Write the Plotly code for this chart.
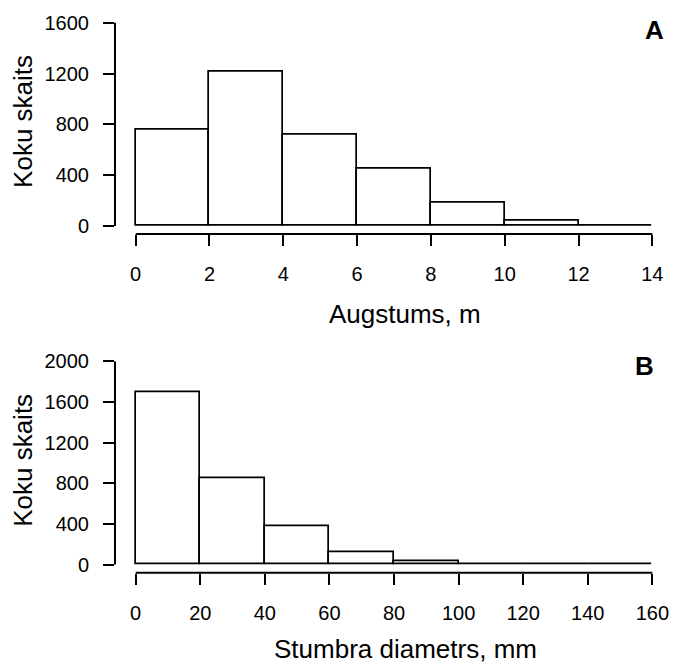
import plotly.graph_objects as go

# Panel A: height histogram
a_edges = [0, 2, 4, 6, 8, 10, 12, 14]
a_counts = [760, 1218, 716, 450, 182, 42, 3]
a_yticks = [0, 400, 800, 1200, 1600]
a_xticks = [0, 2, 4, 6, 8, 10, 12, 14]

# Panel B: stump diameter histogram
b_edges = [0, 20, 40, 60, 80, 100, 120, 140, 160]
b_counts = [1701, 852, 380, 117, 33, 4, 2, 1]
b_yticks = [0, 400, 800, 1200, 1600, 2000]
b_xticks = [0, 20, 40, 60, 80, 100, 120, 140, 160]

W, H = 673, 666
FONT = "Liberation Sans, Arial, Helvetica, sans-serif"

fig = go.Figure()

def centers(edges):
    return [(edges[i] + edges[i + 1]) / 2 for i in range(len(edges) - 1)]

def widths(edges):
    return [edges[i + 1] - edges[i] for i in range(len(edges) - 1)]

fig.add_trace(go.Bar(x=centers(a_edges), y=a_counts, width=widths(a_edges),
                     marker=dict(color="white", line=dict(color="black", width=1.7)),
                     xaxis="x", yaxis="y", showlegend=False, hoverinfo="skip"))
fig.add_trace(go.Bar(x=centers(b_edges), y=b_counts, width=widths(b_edges),
                     marker=dict(color="white", line=dict(color="black", width=1.7)),
                     xaxis="x2", yaxis="y2", showlegend=False, hoverinfo="skip"))

xdom = [115 / W, 1.0]
ydomA = [1 - 233.2 / H, 1 - 11.8 / H]
ydomB = [1 - 574.9 / H, 1 - 353.5 / H]

def pad(lo, hi, f=0.04):
    d = (hi - lo) * f
    return [lo - d, hi + d]

tickfont = dict(family=FONT, size=20, color="black")
common_x = dict(showgrid=False, zeroline=False, showline=False, ticks="outside",
                ticklen=11, tickwidth=2, tickcolor="black", tickfont=tickfont,
                ticklabelstandoff=11, domain=xdom, fixedrange=True)
common_y = dict(showgrid=False, zeroline=False, showline=False, ticks="outside",
                ticklen=11, tickwidth=2, tickcolor="black", tickfont=tickfont,
                ticklabelstandoff=10, fixedrange=True)

fig.update_layout(
    width=W, height=H, margin=dict(l=0, r=0, t=0, b=0),
    paper_bgcolor="white", plot_bgcolor="white", bargap=0,
    font=dict(family=FONT, color="black"),
    xaxis=dict(common_x, range=pad(a_edges[0], a_edges[-1]), tickvals=a_xticks,
               anchor="y"),
    yaxis=dict(common_y, range=pad(a_yticks[0], a_yticks[-1]), tickvals=a_yticks,
               domain=ydomA, anchor="x"),
    xaxis2=dict(common_x, range=pad(b_edges[0], b_edges[-1]), tickvals=b_xticks,
                anchor="y2"),
    yaxis2=dict(common_y, range=pad(b_yticks[0], b_yticks[-1]), tickvals=b_yticks,
                domain=ydomB, anchor="x2"),
)

# R-style axis lines spanning only the tick range
for xr, yr, xt, yt in [("x", "y", a_xticks, a_yticks), ("x2", "y2", b_xticks, b_yticks)]:
    fig.add_shape(type="line", xref=xr, yref=yr + " domain", x0=xt[0], x1=xt[-1], y0=0, y1=0,
                  line=dict(color="black", width=2))
    fig.add_shape(type="line", xref=xr + " domain", yref=yr, x0=0, x1=0, y0=yt[0], y1=yt[-1],
                  line=dict(color="black", width=2))

titlefont = dict(family=FONT, size=26, color="black")
ann = [
    dict(text="Koku skaits", x=23 / W, y=1 - 120 / H, textangle=-90),
    dict(text="Koku skaits", x=23 / W, y=1 - 462 / H, textangle=-90),
    dict(text="Augstums, m", x=405 / W, y=1 - 314 / H),
    dict(text="Stumbra diametrs, mm", x=405 / W, y=1 - 652 / H),
]
for a in ann:
    fig.add_annotation(xref="paper", yref="paper", showarrow=False, font=titlefont,
                       xanchor="center", yanchor="middle", **a)

fig.add_annotation(xref="paper", yref="paper", x=654 / W, y=1 - 27 / H, text="<b>A</b>",
                   showarrow=False, xanchor="center", yanchor="middle",
                   font=dict(family=FONT, size=26, color="black"))
fig.add_annotation(xref="paper", yref="paper", x=644 / W, y=1 - 366 / H, text="<b>B</b>",
                   showarrow=False, xanchor="center", yanchor="middle",
                   font=dict(family=FONT, size=26, color="black"))

fig.write_html("out.html")
